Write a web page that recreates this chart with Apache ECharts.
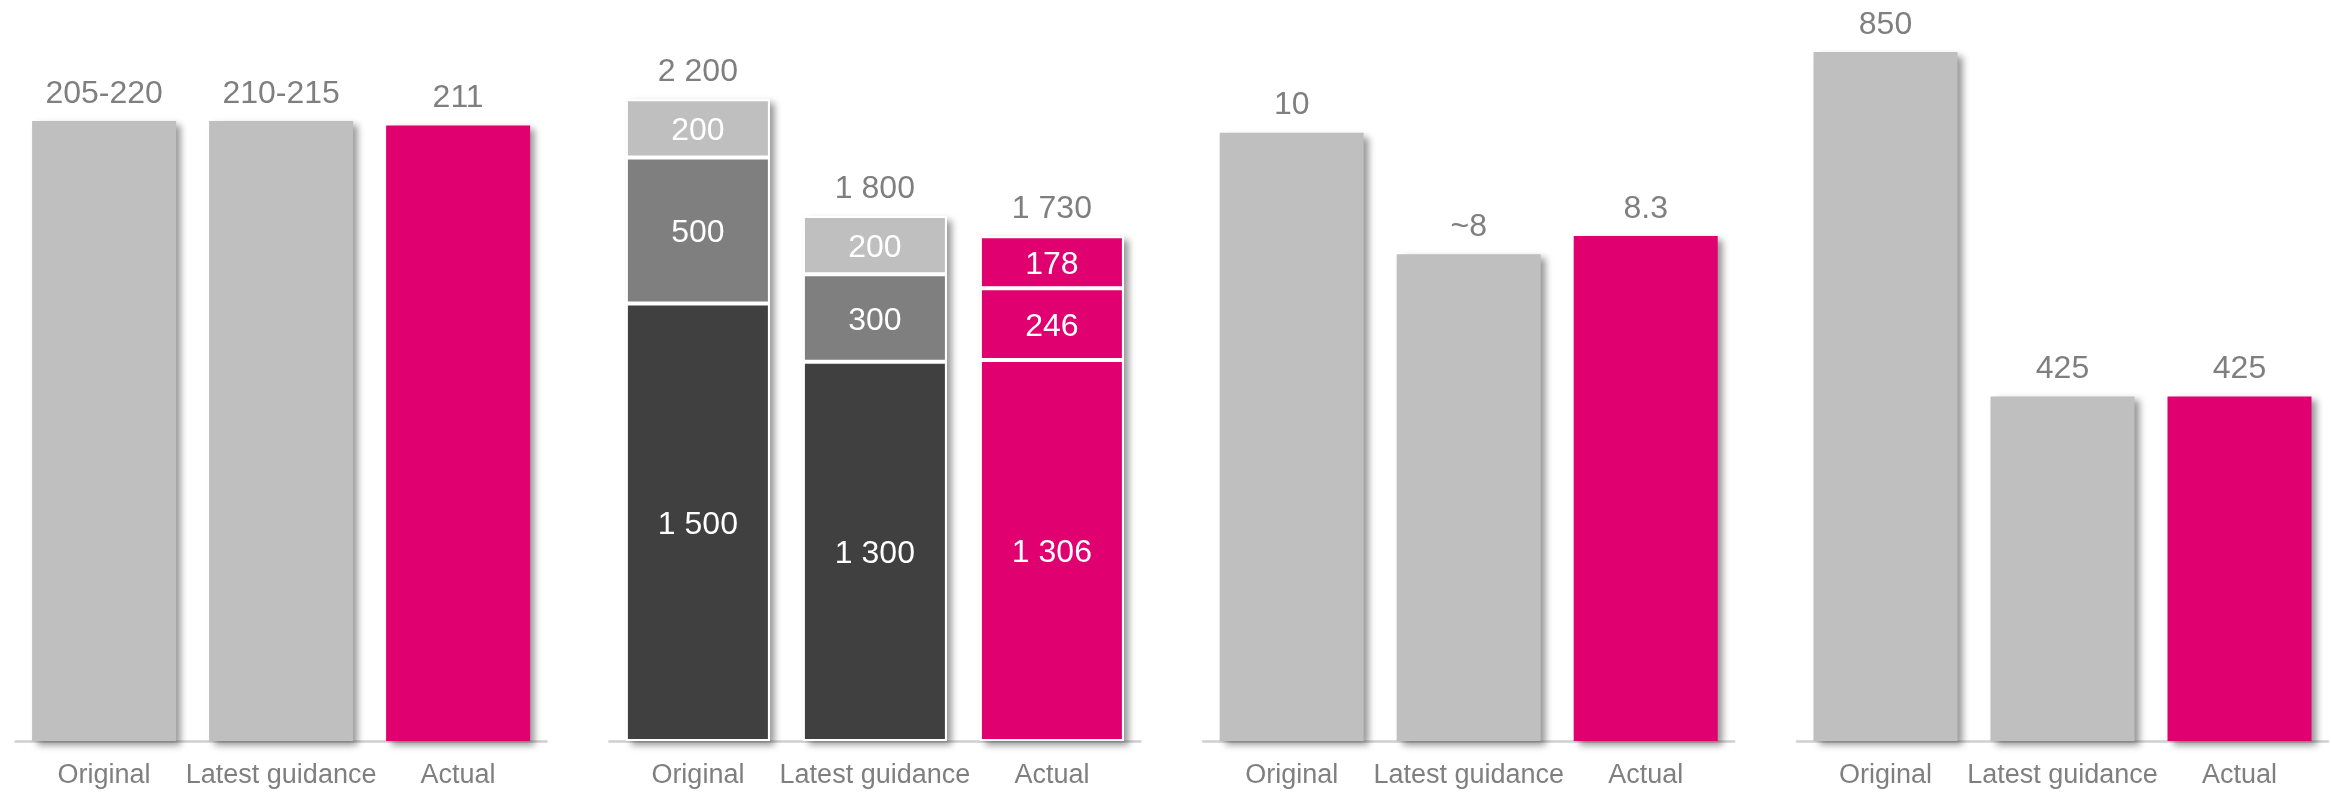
<!DOCTYPE html>
<html>
<head>
<meta charset="utf-8">
<script src="https://cdn.jsdelivr.net/npm/echarts@6/dist/echarts.min.js"></script>
<style>
  html, body { margin: 0; padding: 0; background: #ffffff; }
  #chart { width: 2331px; height: 793px; }
</style>
</head>
<body>
<div id="chart"></div>
<script>
// Categories shared by all four panels
const categories = ['Original', 'Latest guidance', 'Actual'];

// Panel 1: ranges drawn at their midpoint, labelled with the range text
const p1Values = [212.5, 212.5, 211];
const p1Labels = ['205-220', '210-215', '211'];

// Panel 2: stacked components (bottom, middle, top)
const p2Base = [1500, 1300, 1306];
const p2Mid = [500, 300, 246];
const p2Top = [200, 200, 178];

// Panel 3
const p3Values = [10, 8, 8.3];
const p3Labels = ['10', '~8', '8.3'];

// Panel 4
const p4Values = [850, 425, 425];

// Axis ranges per panel
const yMax = [254, 2540, 12.18, 914];

const GREY = '#bfbfbf';
const MAGENTA = '#e0006f';
const DARK = '#404040';
const MID = '#7f7f7f';
const LABEL_GREY = '#7f7f7f';
const FONT = '"Liberation Sans", Arial, sans-serif';

const fmtThousands = v => String(Math.round(v)).replace(/\B(?=(\d{3})+(?!\d))/g, ' ');

const shadow = {
  shadowColor: 'rgba(0,0,0,0.42)',
  shadowBlur: 7,
  shadowOffsetX: 5,
  shadowOffsetY: 4
};

const panelLeft = [15.6, 609.4, 1203.2, 1797];
const panelWidth = 531;

const grids = panelLeft.map(l => ({ left: l, width: panelWidth, top: 0, bottom: 52 }));
const xAxes = panelLeft.map((_, i) => ({
  type: 'category',
  gridIndex: i,
  data: categories,
  axisLine: { lineStyle: { color: '#d0d0d0', width: 2.5 } },
  axisTick: { show: false },
  axisLabel: { interval: 0, color: LABEL_GREY, fontSize: 27, fontFamily: FONT, margin: 21 }
}));
const yAxes = panelLeft.map((_, i) => ({
  type: 'value',
  gridIndex: i,
  min: 0,
  max: yMax[i],
  show: false,
  splitLine: { show: false }
}));

const valueLabel = {
  show: true,
  position: 'top',
  distance: 11,
  color: LABEL_GREY,
  fontSize: 32,
  fontFamily: FONT
};
const innerLabel = {
  show: true,
  position: 'inside',
  offset: [0, 3],
  color: '#ffffff',
  fontSize: 32,
  fontFamily: FONT
};

function simpleBar(idx, values, labels) {
  return {
    type: 'bar',
    xAxisIndex: idx,
    yAxisIndex: idx,
    barWidth: 144,
    data: values.map((v, j) => ({
      value: v,
      itemStyle: Object.assign({ color: j === 2 ? MAGENTA : GREY }, shadow)
    })),
    label: Object.assign({}, valueLabel, {
      formatter: p => labels ? labels[p.dataIndex] : fmtThousands(p.value)
    })
  };
}

const p2Totals = p2Base.map((v, j) => v + p2Mid[j] + p2Top[j]);

function stackSeg(values, greyColor) {
  return {
    type: 'bar',
    xAxisIndex: 1,
    yAxisIndex: 1,
    stack: 'p2',
    barWidth: 144,
    z: 3,
    data: values.map((v, j) => ({
      value: v,
      itemStyle: { color: j === 2 ? MAGENTA : greyColor, borderColor: '#ffffff', borderWidth: 2 }
    })),
    label: Object.assign({}, innerLabel, { formatter: p => fmtThousands(p.value) })
  };
}

const series = [
  simpleBar(0, p1Values, p1Labels),
  // backdrop carrying the shadow and the total of each stack
  {
    type: 'bar',
    xAxisIndex: 1,
    yAxisIndex: 1,
    barWidth: 144,
    barGap: '-100%',
    z: 1,
    data: p2Totals.map(v => ({ value: v, itemStyle: Object.assign({ color: '#ffffff' }, shadow) })),
    label: Object.assign({}, valueLabel, { formatter: p => fmtThousands(p.value) })
  },
  stackSeg(p2Base, DARK),
  stackSeg(p2Mid, MID),
  stackSeg(p2Top, GREY),
  simpleBar(2, p3Values, p3Labels),
  simpleBar(3, p4Values, null)
];

const chart = echarts.init(document.getElementById('chart'), null, { renderer: 'canvas' });
chart.setOption({
  animation: false,
  backgroundColor: '#ffffff',
  grid: grids,
  xAxis: xAxes,
  yAxis: yAxes,
  series: series
});
</script>
</body>
</html>
